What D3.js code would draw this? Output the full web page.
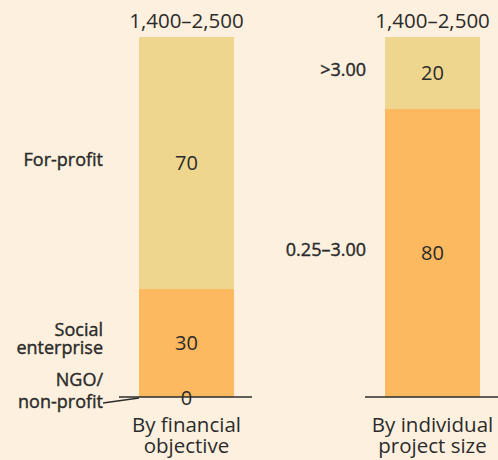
<!DOCTYPE html>
<html>
<head>
<meta charset="utf-8">
<script src="https://cdn.jsdelivr.net/npm/d3@7"></script>
<style>
  html, body { margin: 0; padding: 0; background: #fdf0de; }
  svg { display: block; }
  text { font-family: "Open Sans", "Noto Sans", sans-serif; fill: #2b2b2b; }
  text.cat { stroke: #2b2b2b; stroke-width: 0.4px; }
</style>
</head>
<body>
<svg id="chart" width="498" height="460"></svg>
<script>
// Two stacked 100% bars: investment split by financial objective and by project size
const groups = ["By financial objective", "By individual project size"];
const groupLines = [["By financial", "objective"], ["By individual", "project size"]];
const totals = ["1,400–2,500", "1,400–2,500"];

// segments listed bottom to top
const objectiveCats = ["NGO/non-profit", "Social enterprise", "For-profit"];
const objectiveLines = [["NGO/", "non-profit"], ["Social", "enterprise"], ["For-profit"]];
const objectiveValues = [0, 30, 70];

const sizeCats = ["0.25–3.00", ">3.00"];
const sizeLines = [["0.25–3.00"], [">3.00"]];
const sizeValues = [80, 20];

const colors = { orange: "#fcb960", sand: "#efd68f" };
const objectiveColors = [colors.orange, colors.orange, colors.sand];
const sizeColors = [colors.orange, colors.sand];

const svg = d3.select("#chart");

const x = d3.scaleBand()
  .domain(groups)
  .range([139, 480])
  .paddingInner(0.614)
  .paddingOuter(0);

const y = d3.scaleLinear().domain([0, 100]).range([397, 37]);

function stackOf(cats, values, lines, cols) {
  let acc = 0;
  return cats.map((c, i) => {
    const d = { cat: c, value: values[i], lines: lines[i], color: cols[i], y0: acc, y1: acc + values[i] };
    acc += values[i];
    return d;
  });
}

const series = [
  { group: groups[0], segs: stackOf(objectiveCats, objectiveValues, objectiveLines, objectiveColors), labelGap: 36 },
  { group: groups[1], segs: stackOf(sizeCats, sizeValues, sizeLines, sizeColors), labelGap: 19 }
];

series.forEach((s, gi) => {
  const g = svg.append("g");
  const bx = x(s.group), bw = x.bandwidth(), cx = bx + bw / 2;
  const labelX = bx - s.labelGap;

  // segments
  g.selectAll("rect")
    .data(s.segs.filter(d => d.value > 0))
    .join("rect")
    .attr("x", bx)
    .attr("width", bw)
    .attr("y", d => y(d.y1))
    .attr("height", d => y(d.y0) - y(d.y1))
    .attr("fill", d => d.color);

  // baseline
  g.append("line")
    .attr("x1", bx - 20).attr("x2", bx + bw + 18)
    .attr("y1", y(0)).attr("y2", y(0))
    .attr("stroke", "#2b2b2b").attr("stroke-width", 1.3);

  // total on top
  g.append("text")
    .attr("x", cx).attr("y", y(100) - 9)
    .attr("text-anchor", "middle")
    .style("font-size", "20.5px")
    .text(totals[gi]);

  // value labels
  g.selectAll("text.val")
    .data(s.segs)
    .join("text")
    .attr("class", "val")
    .attr("x", cx)
    .attr("y", d => d.value > 0 ? y((d.y0 + d.y1) / 2) + 7 : y(0) + 8)
    .attr("text-anchor", "middle")
    .style("font-size", "20px")
    .text(d => d.value);

  // category labels, right aligned left of the bar
  s.segs.forEach(d => {
    const zero = d.value === 0;
    const mid = zero ? y(0) : y((d.y0 + d.y1) / 2);
    const n = d.lines.length;
    const lh = zero ? 22 : 18;
    const first = zero ? y(0) - 11 : (n === 1 ? mid + 3 : mid - 7);
    d.lines.forEach((ln, i) => {
      g.append("text")
        .attr("class", "cat")
        .attr("x", labelX)
        .attr("y", first + i * lh)
        .attr("text-anchor", "end")
        .style("font-size", "18px")
        .text(ln);
    });
    if (zero) {
      g.append("line")
        .attr("x1", labelX).attr("y1", y(0) + 6)
        .attr("x2", bx).attr("y2", y(0) + 1)
        .attr("stroke", "#2b2b2b").attr("stroke-width", 1.3);
    }
  });

  // group label below
  groupLines[gi].forEach((ln, i) => {
    g.append("text")
      .attr("x", cx)
      .attr("y", y(0) + 35 + i * 21)
      .attr("text-anchor", "middle")
      .style("font-size", "20.5px")
      .text(ln);
  });
});
</script>
</body>
</html>
